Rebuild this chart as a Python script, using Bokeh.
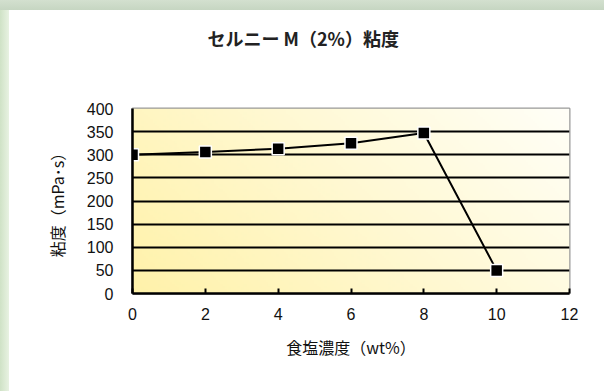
import numpy as np
from bokeh.plotting import figure
from bokeh.models import FixedTicker, Title
from bokeh.embed import file_html
from bokeh.resources import INLINE

# ---- data ----
salt_conc = [0, 2, 4, 6, 8, 10]
viscosity = [300, 306, 313, 325, 347, 50]
x_ticks = [0, 2, 4, 6, 8, 10, 12]
y_ticks = [0, 50, 100, 150, 200, 250, 300, 350, 400]
title_text = "セルニー M（2%）粘度"
x_label = "食塩濃度（wt%）"
y_label = "粘度（mPa･s）"

X_MIN, X_MAX = 0, 12
Y_MIN, Y_MAX = 0, 400

FIG_W, FIG_H = 604, 391
FRAME_L, FRAME_R, FRAME_T, FRAME_B = 132, 569, 108, 293

p = figure(width=FIG_W, height=FIG_H, output_backend="svg", toolbar_location=None,
           x_range=(X_MIN, X_MAX), y_range=(Y_MIN, Y_MAX),
           min_border_left=FRAME_L, min_border_right=FIG_W - FRAME_R,
           min_border_top=FRAME_T, min_border_bottom=FIG_H - FRAME_B)
p.border_fill_color = None
p.background_fill_color = "white"
p.outline_line_color = "#999999"
p.outline_line_width = 2
p.styles = {
    "background": ("linear-gradient(to bottom, #d3e0cf, #c6d6c2) left top / 100% 10px no-repeat, "
                   "linear-gradient(to right, #cfe2c6, #e8f2e2) left top / 9px 100% no-repeat, "
                   "white"),
}

# titles: an invisible spacer next to the frame, then the real title above it
p.add_layout(Title(text=" ", text_font_size="1px", standoff=50), "above")
p.add_layout(Title(text=title_text, align="left", offset=75, standoff=10,
                   text_font="Noto Sans CJK JP", text_font_style="bold",
                   text_font_size="18px", text_color="#222222"), "above")

# gradient background (yellow bottom-left -> white top-right)
ny, nx = 100, 200
yy, xx = np.mgrid[0:ny, 0:nx]
t = (xx / (nx - 1) * 437 + yy / (ny - 1) * 185) / (437 + 185)
c0 = np.array([255, 242, 170])
c1 = np.array([255, 255, 248])
cols = c0[None, None, :] * (1 - t[..., None]) + c1[None, None, :] * t[..., None]
img = np.zeros((ny, nx), dtype=np.uint32)
view = img.view(dtype=np.uint8).reshape((ny, nx, 4))
view[..., 0] = cols[..., 0]
view[..., 1] = cols[..., 1]
view[..., 2] = cols[..., 2]
view[..., 3] = 255
p.image_rgba(image=[img], x=X_MIN, y=Y_MIN, dw=X_MAX - X_MIN, dh=Y_MAX - Y_MIN, level="image")

# grid
p.xgrid.visible = False
p.ygrid.ticker = FixedTicker(ticks=[v for v in y_ticks if Y_MIN < v < Y_MAX])
p.ygrid.grid_line_color = "black"
p.ygrid.grid_line_width = 2.2
p.ygrid.level = "underlay"

# axes
p.xaxis.ticker = FixedTicker(ticks=x_ticks)
p.yaxis.ticker = FixedTicker(ticks=y_ticks)
for ax in (p.xaxis[0], p.yaxis[0]):
    ax.axis_line_color = "black"
    ax.axis_line_width = 2.5
    ax.major_label_text_font = "Liberation Sans"
    ax.major_label_text_font_size = "16px"
    ax.major_label_text_color = "#111111"
    ax.minor_tick_line_color = None
    ax.axis_label_text_font = "Noto Sans CJK JP"
    ax.axis_label_text_font_size = "16px"
    ax.axis_label_text_font_style = "normal"
    ax.axis_label_text_color = "#111111"
p.xaxis.major_tick_in = 5
p.xaxis.major_tick_out = 0
p.xaxis.major_tick_line_width = 2
p.xaxis.major_tick_line_color = "black"
p.yaxis.major_tick_in = 0
p.yaxis.major_tick_out = 0
p.xaxis.major_label_standoff = 14
p.yaxis.major_label_standoff = 19
p.xaxis.axis_label = x_label
p.yaxis.axis_label = y_label
p.xaxis.axis_label_standoff = 12
p.yaxis.axis_label_standoff = 15

# series
p.line(salt_conc, viscosity, line_color="black", line_width=2)
p.scatter(salt_conc, viscosity, marker="square", size=12, fill_color="black",
          line_color="white", line_width=1.5)

open("out.html", "w").write(file_html(p, INLINE))
